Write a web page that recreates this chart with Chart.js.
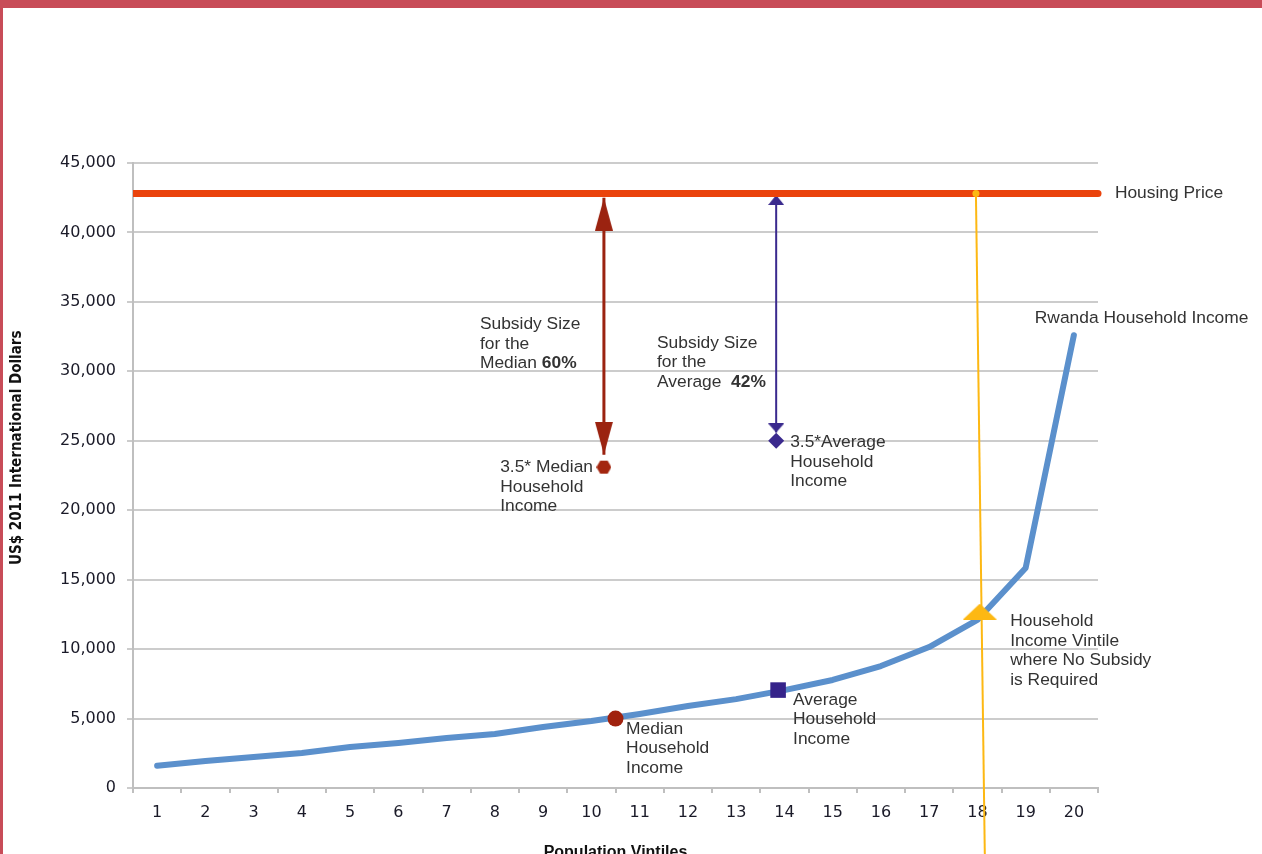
<!DOCTYPE html>
<html>
<head>
<meta charset="utf-8">
<title>Rwanda Household Income and Housing Price</title>
<script src="https://cdn.jsdelivr.net/npm/chart.js@4.4.1/dist/chart.umd.min.js"></script>
<style>
  html, body { margin: 0; padding: 0; background: #fff; overflow: hidden; }
  #wrap { position: absolute; left: 0; top: 0; width: 1262px; height: 875px; }
  #frame-top { position: absolute; left: 0; top: 0; width: 1262px; height: 8px; background: #c84c58; z-index: 2; }
  #frame-left { position: absolute; left: 0; top: 0; width: 3px; height: 854px; background: #c84c58; z-index: 2; }
</style>
</head>
<body>
<div id="wrap"><canvas id="chart"></canvas></div>
<div id="frame-top"></div>
<div id="frame-left"></div>
<script>
// Population vintiles on the x axis
const vintiles = [1, 2, 3, 4, 5, 6, 7, 8, 9, 10, 11, 12, 13, 14, 15, 16, 17, 18, 19, 20];
// Rwanda household income per vintile (US$ 2011 international dollars)
const householdIncome = [1600, 1950, 2230, 2520, 2950, 3240, 3600, 3890, 4390, 4820,
                         5330, 5900, 6400, 7050, 7780, 8780, 10150, 12100, 15840, 32600];
// y axis ticks
const yTicks = [0, 5000, 10000, 15000, 20000, 25000, 30000, 35000, 40000, 45000];

// Housing price, spanning the whole vintile range
const housingPrice = 42800;
const housingSpan = [0.5, 20.5];

// Markers: [vintile, value]
const medianIncome = [10.5, 5000];
const averageIncome = [13.87, 7050];
const medianTimes35 = [10.26, 23100];
const averageTimes35 = [13.83, 25000];
const noSubsidyVintile = [18.05, 12700];

// Subsidy arrows: [vintile, top tip, bottom tip]
const medianSubsidy = [10.26, 42500, 24000];
const averageSubsidy = [13.83, 42700, 25600];

// Guide line through the vintile where no subsidy is needed
const noSubsidyGuide = [[17.97, 42800], [18.16, -6300]];

// Text notes anchored in data units (left edge, first line centre)
const notes = [
  { at: [7.69, 33400], lines: ['Subsidy Size', 'for the', 'Median **60%**'] },
  { at: [11.36, 32050], lines: ['Subsidy Size', 'for the', 'Average  **42%**'] },
  { at: [8.11, 23100], lines: ['3.5* Median', 'Household', 'Income'] },
  { at: [14.12, 24900], lines: ['3.5*Average', 'Household', 'Income'] },
  { at: [10.72, 4250], lines: ['Median', 'Household', 'Income'] },
  { at: [14.18, 6330], lines: ['Average', 'Household', 'Income'] },
  { at: [18.68, 12000], lines: ['Household', 'Income Vintile', 'where No Subsidy', 'is Required'] },
  { at: [19.19, 33850], lines: ['Rwanda Household Income'] },
  { at: [20.85, 42850], lines: ['Housing Price'] }
];

const TEXT_FONT = '"Liberation Sans", Arial, sans-serif';
const TICK_FONT = '"DejaVu Sans", Verdana, sans-serif';

// Arrowhead image whose tip sits at the image centre
function arrowHead(w, h, color, dir) {
  const c = document.createElement('canvas');
  c.width = w; c.height = 2 * h;
  const g = c.getContext('2d');
  g.fillStyle = color;
  g.beginPath();
  if (dir === 'up') {
    g.moveTo(w / 2, h); g.lineTo(w, 2 * h); g.lineTo(0, 2 * h);
  } else {
    g.moveTo(w / 2, h); g.lineTo(w, 0); g.lineTo(0, 0);
  }
  g.closePath();
  g.fill();
  return c;
}

function hexagon(size, color) {
  const c = document.createElement('canvas');
  c.width = size; c.height = size;
  const g = c.getContext('2d');
  const r = size / 2;
  g.fillStyle = color;
  g.beginPath();
  for (let i = 0; i < 6; i++) {
    const a = Math.PI / 3 * i;
    const px = r + Math.cos(a) * r, py = r + Math.sin(a) * r;
    if (i === 0) g.moveTo(px, py); else g.lineTo(px, py);
  }
  g.closePath();
  g.fill();
  return c;
}

function flatTriangle(w, h, color) {
  const c = document.createElement('canvas');
  c.width = w; c.height = h;
  const g = c.getContext('2d');
  g.fillStyle = color;
  g.beginPath();
  g.moveTo(w / 2, 0); g.lineTo(w, h); g.lineTo(0, h);
  g.closePath();
  g.fill();
  return c;
}

const pt = a => ({ x: a[0], y: a[1] });

// Draws the text notes and the vertical y-axis title
const notesPlugin = {
  id: 'notes',
  afterDatasetsDraw(chart) {
    const { ctx, scales: { x, y } } = chart;
    const size = 17.4, gap = 19.6;
    ctx.save();
    ctx.fillStyle = '#333333';
    ctx.textBaseline = 'middle';
    ctx.textAlign = 'left';
    notes.forEach(n => {
      const left = x.getPixelForValue(n.at[0]);
      const top = y.getPixelForValue(n.at[1]);
      n.lines.forEach((line, i) => {
        let cx = left;
        line.split('**').forEach((part, j) => {
          if (!part) return;
          ctx.font = (j % 2 ? 'bold ' : '') + size + 'px ' + TEXT_FONT;
          ctx.fillText(part, cx, top + i * gap);
          cx += ctx.measureText(part).width;
        });
      });
    });
    // y-axis title
    ctx.translate(y.left + 17, y.getPixelForValue(24500));
    ctx.rotate(-Math.PI / 2);
    ctx.textAlign = 'center';
    ctx.fillStyle = '#111111';
    ctx.font = 'bold 15px "Liberation Sans Narrow", "DejaVu Sans Condensed", "Liberation Sans", sans-serif';
    ctx.fillText('US$ 2011 International Dollars', 0, 0);
    ctx.restore();
  }
};

const upRed = arrowHead(18, 33, '#9b2310', 'up');
const downRed = arrowHead(18, 33, '#9b2310', 'down');
const upPurple = arrowHead(16, 10, '#3a2a8e', 'up');
const downPurple = arrowHead(16, 9, '#3a2a8e', 'down');

new Chart(document.getElementById('chart'), {
  type: 'line',
  data: {
    datasets: [
      {
        label: 'No subsidy guide',
        data: noSubsidyGuide.map(pt),
        borderColor: '#fdb813',
        borderWidth: 2,
        pointRadius: [3.5, 0],
        pointBackgroundColor: '#fdb813',
        pointBorderWidth: 0,
        clip: false,
        order: 0
      },
      {
        label: 'Household Income Vintile where No Subsidy is Required',
        data: [pt(noSubsidyVintile)],
        showLine: false,
        pointStyle: flatTriangle(34, 16, '#fdb813'),
        pointRadius: 8,
        order: 1
      },
      {
        label: 'Median Household Income',
        data: [pt(medianIncome)],
        showLine: false,
        pointStyle: 'circle',
        pointRadius: 8,
        pointBackgroundColor: '#a0220e',
        pointBorderWidth: 0,
        order: 2
      },
      {
        label: 'Average Household Income',
        data: [pt(averageIncome)],
        showLine: false,
        pointStyle: 'rect',
        pointRadius: 11,
        pointBackgroundColor: '#35238a',
        pointBorderWidth: 0,
        order: 2
      },
      {
        label: 'Rwanda Household Income',
        data: vintiles.map((v, i) => ({ x: v, y: householdIncome[i] })),
        borderColor: '#5b90cc',
        borderWidth: 6,
        borderJoinStyle: 'round',
        borderCapStyle: 'round',
        pointRadius: 0,
        tension: 0,
        order: 3
      },
      {
        label: 'Housing Price',
        data: housingSpan.map(v => ({ x: v, y: housingPrice })),
        borderColor: '#ea430c',
        borderWidth: 7,
        borderCapStyle: 'round',
        pointRadius: 0,
        clip: { left: 0, top: 5, right: 5, bottom: 5 },
        order: 4
      },
      {
        label: 'Subsidy Size for the Median',
        data: [{ x: medianSubsidy[0], y: medianSubsidy[1] }, { x: medianSubsidy[0], y: medianSubsidy[2] }],
        borderColor: '#9b2310',
        borderWidth: 3,
        pointStyle: [upRed, downRed],
        pointRadius: 6,
        order: 5
      },
      {
        label: 'Subsidy Size for the Average',
        data: [{ x: averageSubsidy[0], y: averageSubsidy[1] }, { x: averageSubsidy[0], y: averageSubsidy[2] }],
        borderColor: '#3a2a8e',
        borderWidth: 2,
        pointStyle: [upPurple, downPurple],
        pointRadius: 6,
        order: 5
      },
      {
        label: '3.5* Median Household Income',
        data: [pt(medianTimes35)],
        showLine: false,
        pointStyle: hexagon(15, '#a3260f'),
        pointRadius: 7,
        order: 5
      },
      {
        label: '3.5*Average Household Income',
        data: [pt(averageTimes35)],
        showLine: false,
        pointStyle: 'rectRot',
        pointRadius: 8,
        pointBackgroundColor: '#3b2a8e',
        pointBorderWidth: 0,
        order: 5
      }
    ]
  },
  options: {
    responsive: true,
    maintainAspectRatio: false,
    animation: false,
    events: [],
    layout: { padding: { left: 0, right: 164, top: 163, bottom: 0 } },
    plugins: {
      legend: { display: false },
      tooltip: { enabled: false }
    },
    scales: {
      x: {
        type: 'linear',
        min: 0.5,
        max: 20.5,
        afterBuildTicks: s => { s.ticks = vintiles.map(v => ({ value: v })); },
        afterFit: s => { s.height = 87; },
        ticks: {
          autoSkip: false,
          padding: 10,
          color: '#1a1a28',
          font: { family: TICK_FONT, size: 16 },
          callback: v => String(v)
        },
        grid: { offset: true, drawOnChartArea: false, tickLength: 5, color: '#bfbfbf', lineWidth: 2 },
        border: { color: '#bfbfbf', width: 2 },
        title: {
          display: true,
          text: 'Population Vintiles',
          color: '#111111',
          font: { family: TEXT_FONT, size: 16, weight: 'bold' },
          padding: { top: 4, bottom: 13 }
        }
      },
      y: {
        min: 0,
        max: 45000,
        afterBuildTicks: s => { s.ticks = yTicks.map(v => ({ value: v })); },
        afterFit: s => { s.width = 133; },
        ticks: {
          padding: 11,
          color: '#1a1a28',
          font: { family: TICK_FONT, size: 16 },
          callback: v => v.toLocaleString('en-US')
        },
        grid: { color: '#cccccc', lineWidth: 2, tickLength: 6 },
        border: { color: '#bfbfbf', width: 2 }
      }
    }
  },
  plugins: [notesPlugin]
});
</script>
</body>
</html>
